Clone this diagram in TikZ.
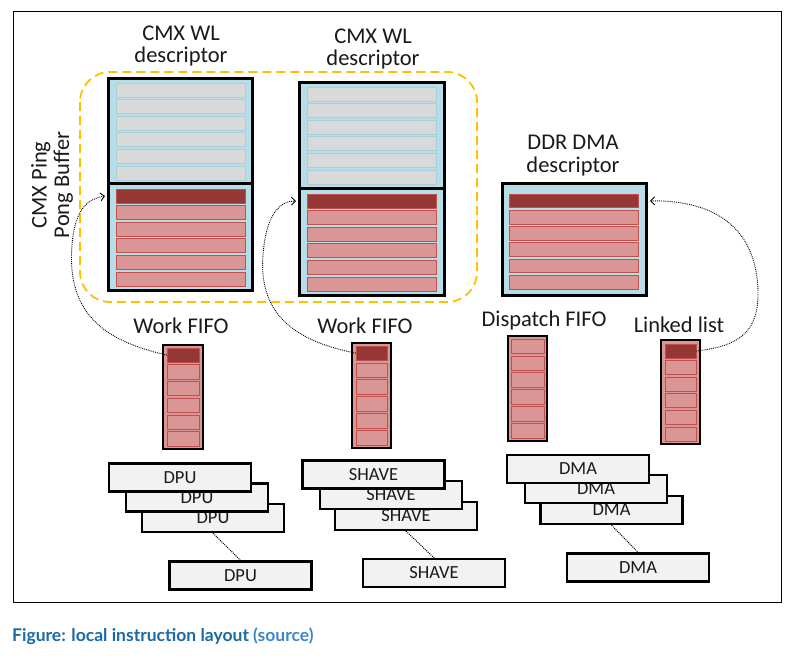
\documentclass[tikz,border=0pt]{standalone}
\usepackage{fontspec}
\setmainfont{Carlito}
\newfontfamily\capfont{Lato}
\usetikzlibrary{arrows.meta}
\definecolor{blockblue}{HTML}{B7DEE8}
\definecolor{cellgray}{HTML}{D9D9D9}
\definecolor{cellgrayline}{HTML}{A9CFDA}
\definecolor{cellred}{HTML}{D99694}
\definecolor{cellredline}{HTML}{C0504D}
\definecolor{celldark}{HTML}{953735}
\definecolor{enginefill}{HTML}{F2F2F2}
\definecolor{pingpong}{HTML}{FFC000}
\definecolor{capblue}{HTML}{1A6AA6}
\definecolor{linkblue}{HTML}{3F86C6}
\definecolor{txt}{HTML}{1A1A1A}
\newcommand\rowset[7]{%
  \pgfmathsetmacro\rp{(#5-#4+2.5)/6}%
  \pgfmathsetmacro\rw{#3-#2}%
  \pgfmathsetmacro\rh{\rp-2.5}%
  \pgfmathsetmacro\rx{(#2+#3)/2}%
  \foreach \i in {0,...,5}{%
    \pgfmathsetmacro\ry{#4+\i*\rp+\rh/2}%
    \ifnum\i=0
      \node[#6, minimum width=\rw pt, minimum height=\rh pt] (#1-\i) at (\rx,\ry) {};
    \else
      \node[#7, minimum width=\rw pt, minimum height=\rh pt] (#1-\i) at (\rx,\ry) {};
    \fi
  }}
\begin{document}
\begin{tikzpicture}[x=1pt,y=-1pt,
  cellbase/.style={inner sep=0pt, outer sep=0pt, line width=0.8pt},
  graycell/.style={cellbase, fill=cellgray, draw=cellgrayline},
  redcell/.style={cellbase, fill=cellred, draw=cellredline},
  darkcell/.style={cellbase, fill=celldark, draw=cellredline},
  blockhalf/.style={draw=black, line width=3pt, fill=blockblue, inner sep=0pt, outer sep=0pt},
  fifocol/.style={draw=black, line width=1.3pt, fill=cellred, inner sep=0pt, outer sep=0pt, minimum width=40pt},
  engine/.style={draw=black, line width=2.4pt, fill=enginefill, minimum width=142pt, minimum height=28pt, inner sep=0pt, font=\fontsize{18.5}{20}\selectfont, text=txt},
  lbl/.style={font=\fontsize{22.5}{22.5}\selectfont, text=txt, align=center, inner sep=0pt},
  link/.style={densely dotted, line width=0.9pt, -{Straight Barb[length=4pt,width=8pt]}},
  chain/.style={densely dotted, line width=1pt}
]
\useasboundingbox (0,0) rectangle (791,658);
\fill[white] (0,0) rectangle (791,658);
\draw[line width=1pt] (13,12) rectangle (781,602);

% ping-pong buffer outline
\draw[pingpong, line width=1.8pt, dash pattern=on 9pt off 5pt, rounded corners=30pt] (80,72) rectangle (477,302);

% CMX WL descriptor 1
\node[blockhalf, minimum width=144pt, minimum height=104pt] (wl1top) at (180,131) {};
\node[blockhalf, minimum width=144pt, minimum height=107pt] (wl1bot) at (180,236.5) {};
\rowset{wla}{116}{245}{83}{180}{graycell}{graycell}
\rowset{wlb}{116}{245}{189}{286}{darkcell}{redcell}

% CMX WL descriptor 2
\node[blockhalf, minimum width=145pt, minimum height=105pt] (wl2top) at (371.5,135.5) {};
\node[blockhalf, minimum width=145pt, minimum height=107pt] (wl2bot) at (371.5,241.5) {};
\rowset{wlc}{307}{436}{87}{184}{graycell}{graycell}
\rowset{wld}{307}{436}{194}{291}{darkcell}{redcell}

% DDR DMA descriptor
\node[blockhalf, minimum width=144pt, minimum height=112pt] (ddr) at (574,239) {};
\rowset{ddrr}{509}{638}{194}{289}{darkcell}{redcell}

% labels
\node[lbl] (l1) at (181,46) {CMX WL\\descriptor};
\node[lbl] (l2) at (373,49) {CMX WL\\descriptor};
\node[lbl] (l3) at (573,155.5) {DDR DMA\\descriptor};
\node[lbl, rotate=90] (l4) at (52,185) {CMX Ping\\Pong Buffer};
\node[lbl] (l5) at (181,326) {Work FIFO};
\node[lbl] (l6) at (365,326) {Work FIFO};
\node[lbl] (l7) at (544,320) {Dispatch FIFO};
\node[lbl] (l8) at (679,325) {Linked list};

% FIFOs
\node[fifocol, minimum height=104pt] (f1) at (183,397) {};
\rowset{fa}{167}{199}{348}{446}{darkcell}{redcell}
\node[fifocol, minimum width=39pt, minimum height=105pt] (f2) at (371.5,395.5) {};
\rowset{fb}{356}{387}{346}{445}{darkcell}{redcell}
\node[fifocol, minimum width=39pt, minimum height=105pt] (f3) at (527.5,388.5) {};
\rowset{fc}{511}{544}{339}{438}{redcell}{redcell}
\node[fifocol, minimum width=39pt, minimum height=104pt] (f4) at (680.5,392) {};
\rowset{fd}{665}{696}{344}{441}{darkcell}{redcell}

% DPU engines
\node[engine] (dpu3) at (213,518) {DPU};
\node[engine] (dpu2) at (197,497.5) {DPU};
\node[engine] (dpu1) at (180,477.5) {DPU};
\node[engine] (dpu4) at (240.5,575.5) {DPU};
\draw[chain] (dpu3.south) -- (dpu4.north);

% SHAVE engines
\node[engine] (sh3) at (406,516) {SHAVE};
\node[engine] (sh2) at (391,495) {SHAVE};
\node[engine] (sh1) at (373.5,474.5) {SHAVE};
\node[engine] (sh4) at (434,573) {SHAVE};
\draw[chain] (sh3.south) -- (sh4.north);

% DMA engines
\node[engine] (dma3) at (611.5,510) {DMA};
\node[engine] (dma2) at (596,489) {DMA};
\node[engine] (dma1) at (578,469) {DMA};
\node[engine] (dma4) at (638,567.5) {DMA};
\draw[chain] (dma3.south) -- (dma4.north);

% links
\draw[link] (fa-0.west) .. controls (110,342) and (66,318) .. (72,245)
  .. controls (75,208) and (88,199) .. ([xshift=-3pt]wl1bot.west |- wlb-0);
\draw[link] (fb-0.west) .. controls (300,342) and (258,318) .. (263,255)
  .. controls (266,214) and (280,201) .. ([xshift=-3pt]wl2bot.west |- wld-0);
\draw[link] (fd-0.east) .. controls (740,346) and (759,332) .. (758,290)
  .. controls (756,232) and (720,200) .. ([xshift=4pt]ddr.east |- ddrr-0);

% caption
\node[anchor=west, inner sep=0pt, font=\capfont\bfseries\fontsize{17.5}{20}\selectfont] (cap) at (12,636) {\textcolor{capblue}{Figure: local instruction layout} \textcolor{linkblue}{(source)}};
\end{tikzpicture}
\end{document}
